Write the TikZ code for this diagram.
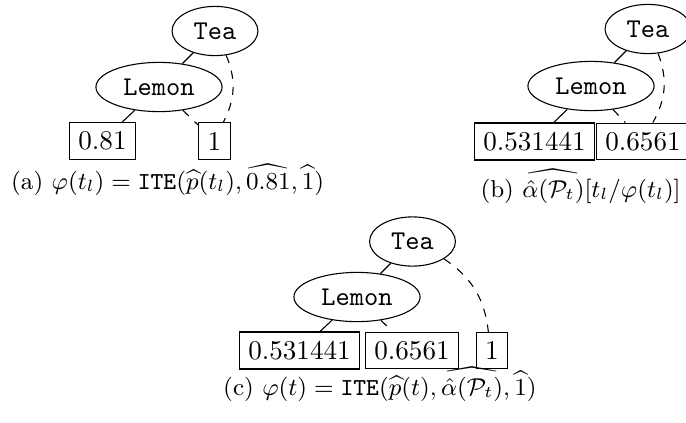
\documentclass[tikz,border=0pt]{standalone}
\usepackage{graphicx}
\usetikzlibrary{shapes.geometric}
\newcommand{\xhat}[1]{\mbox{\setbox0=\hbox{$#1$}\setbox2=\hbox{$\widehat{\hbox to 1.4em{}}$}\ooalign{\copy0\cr\hidewidth\raisebox{\dimexpr\ht0-1ex\relax}{\resizebox{\wd0}{\ht2}{\copy2}}\hidewidth\cr}}}
\tikzset{
  var/.style={draw, ellipse, font=\ttfamily},
  leaf/.style={draw, rectangle},
  hi/.style={draw},
  lo/.style={draw, dashed},
  captext/.style={anchor=base west, inner sep=0pt, font=\small}
}
\begin{document}
\begin{tikzpicture}[x=0.369pt, y=-0.369pt]
\clip (0,0) rectangle (686,422);
% (a)
\node[var] (ta) at (215,31) {Tea};
\node[var] (la) at (159,87) {Lemon};
\node[leaf] (a81) at (102.5,141) {0.81};
\node[leaf] (a1) at (214.5,141) {1};
\draw[hi] (ta) -- (la);
\draw[hi] (la) -- (a81);
\draw[lo] (la) -- (a1);
\draw[lo] (ta) to[bend left=25] (a1);
\node[captext] (capa) at (10.7,189) {(a) $\varphi(t_l) = \texttt{ITE}(\widehat{p}(t_l), \widehat{0.81}, \widehat{1})$};
% (b)
\node[var] (tb) at (648,29) {Tea};
\node[var] (lb) at (591,86) {Lemon};
\node[leaf] (b5) at (534.5,141.5) {0.531441};
\node[leaf] (b6) at (643,141.5) {0.6561};
\draw[hi] (tb) -- (lb);
\draw[hi] (lb) -- (b5);
\draw[lo] (lb) -- (b6);
\draw[lo] (tb) to[bend left=25] (b6);
\node[captext] (capb) at (480,197) {(b) $\xhat{\hat{\alpha}(\mathcal{P}_t)}[t_l/\varphi(t_l)]$};
% (c)
\node[var] (tc) at (412.5,241.5) {Tea};
\node[var] (lc) at (357,297) {Lemon};
\node[leaf] (c5) at (299.5,350.5) {0.531441};
\node[leaf] (c6) at (412,350.5) {0.6561};
\node[leaf] (c1) at (492,350.5) {1};
\draw[hi] (tc) -- (lc);
\draw[hi] (lc) -- (c5);
\draw[lo] (lc) -- (c6);
\draw[lo] (tc) to[bend left=25] (c1);
\node[captext] (capc) at (222.7,395) {(c) $\varphi(t) = \texttt{ITE}(\widehat{p}(t), \xhat{\hat{\alpha}(\mathcal{P}_t)}, \widehat{1})$};
\end{tikzpicture}
\end{document}
